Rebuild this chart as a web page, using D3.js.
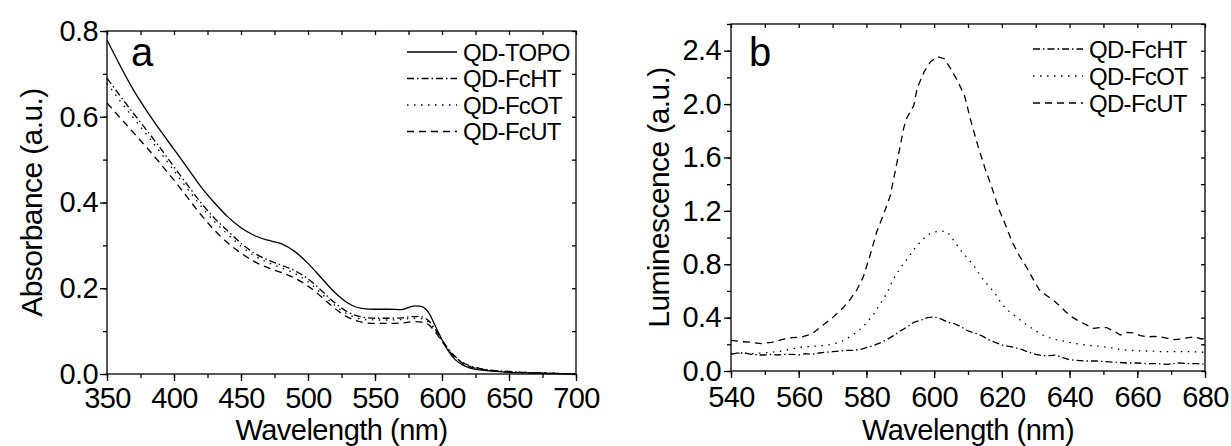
<!DOCTYPE html>
<html>
<head>
<meta charset="utf-8">
<script src="https://cdn.jsdelivr.net/npm/d3@7"></script>
<style>
body { margin: 0; background: #fff; }
svg { font-family: "Liberation Sans", Arial, sans-serif; }
</style>
</head>
<body>
<div id="chart"></div>
<script>
// panel a: absorbance
const absNm = [350,360,370,380,390,400,410,420,430,440,450,460,470,480,490,500,510,520,530,540,550,560,570,575,580,585,590,595,600,605,610,615,620,630,640,650,660,670,680,690,700];
const absTOPO = [0.779,0.718,0.661,0.612,0.567,0.524,0.481,0.437,0.400,0.367,0.341,0.323,0.312,0.304,0.286,0.258,0.224,0.190,0.165,0.153,0.151,0.151,0.150,0.155,0.159,0.157,0.143,0.112,0.080,0.052,0.033,0.022,0.015,0.009,0.006,0.004,0.003,0.002,0.001,0.0005,0.0];
const absFcHT = [0.690,0.648,0.607,0.567,0.526,0.483,0.441,0.400,0.364,0.334,0.305,0.282,0.266,0.254,0.241,0.222,0.195,0.166,0.144,0.133,0.130,0.130,0.131,0.133,0.134,0.133,0.124,0.104,0.080,0.057,0.040,0.028,0.020,0.012,0.008,0.006,0.004,0.003,0.002,0.001,0.001];
const absFcOT = [0.678,0.636,0.596,0.557,0.516,0.474,0.432,0.392,0.356,0.326,0.298,0.276,0.260,0.248,0.235,0.215,0.188,0.160,0.139,0.128,0.126,0.126,0.127,0.129,0.130,0.129,0.121,0.101,0.078,0.056,0.039,0.027,0.019,0.011,0.007,0.005,0.004,0.003,0.002,0.001,0.001];
const absFcUT = [0.632,0.597,0.562,0.527,0.490,0.452,0.412,0.372,0.336,0.306,0.282,0.262,0.248,0.237,0.224,0.205,0.180,0.153,0.132,0.121,0.118,0.118,0.119,0.121,0.122,0.121,0.115,0.098,0.076,0.055,0.038,0.026,0.018,0.011,0.007,0.005,0.003,0.002,0.002,0.001,0.001];

// panel b: luminescence
const lumHTnm = [540,542,544,546,548,550,552,554,556,558,560,562,564,566,568,570,572,574,576,578,580,582,584,586,588,590,592,594,596,598,600,602,604,606,608,610,612,614,616,618,620,622,624,626,628,630,632,634,636,638,640,642,645,648,651,654,657,660,663,666,669,672,675,678,680];
const lumHT = [0.125,0.135,0.135,0.125,0.12,0.12,0.125,0.12,0.125,0.125,0.12,0.13,0.125,0.135,0.14,0.145,0.15,0.155,0.155,0.16,0.175,0.19,0.21,0.235,0.265,0.30,0.33,0.365,0.38,0.40,0.405,0.39,0.365,0.355,0.33,0.30,0.285,0.265,0.235,0.215,0.195,0.185,0.175,0.16,0.14,0.125,0.115,0.115,0.12,0.10,0.085,0.08,0.075,0.075,0.07,0.065,0.06,0.06,0.055,0.055,0.05,0.06,0.055,0.055,0.05];
const lumOTnm = [540,543,546,549,552,555,558,561,564,567,570,573,576,578,580,582,584,586,588,590,592,594,596,598,600,602,604,606,608,610,612,614,616,618,620,622,624,626,628,630,632,634,636,638,640,643,646,649,652,655,658,661,664,667,670,673,676,680];
const lumOT = [0.13,0.135,0.13,0.135,0.14,0.15,0.165,0.18,0.185,0.19,0.20,0.225,0.27,0.31,0.36,0.42,0.50,0.58,0.69,0.77,0.84,0.91,0.97,1.02,1.04,1.05,1.04,0.97,0.90,0.84,0.78,0.70,0.64,0.58,0.50,0.45,0.41,0.37,0.335,0.30,0.27,0.25,0.235,0.225,0.215,0.20,0.19,0.185,0.175,0.16,0.155,0.15,0.15,0.145,0.145,0.145,0.145,0.14];
const lumUTnm = [540,543,546,549,552,555,558,561,564,567,570,573,575,577,579,581,583,585,587,589,591,592,594,595,597,599,601,603,605,607,609,611,613,615,617,619,621,623,625,627,629,631,633,635,637,639,641,643,645,647,649,651,653,655,657,659,661,663,665,667,669,671,673,675,677,679,680];
const lumUT = [0.23,0.22,0.215,0.205,0.215,0.235,0.25,0.255,0.28,0.34,0.40,0.47,0.53,0.60,0.70,0.86,1.04,1.17,1.31,1.56,1.82,1.90,1.99,2.12,2.24,2.32,2.355,2.34,2.26,2.17,2.06,1.86,1.68,1.52,1.38,1.22,1.10,0.97,0.87,0.79,0.70,0.61,0.57,0.535,0.49,0.44,0.40,0.37,0.345,0.32,0.325,0.325,0.30,0.27,0.29,0.285,0.265,0.255,0.26,0.255,0.245,0.235,0.24,0.25,0.255,0.24,0.245];

const xTicksA = [350,400,450,500,550,600,650,700];
const yTicksA = [0.0,0.2,0.4,0.6,0.8];
const xTicksB = [540,560,580,600,620,640,660,680];
const yTicksB = [0.0,0.4,0.8,1.2,1.6,2.0,2.4];

const dashes = {
  solid: null,
  dashdot: "7,3,1.5,3",
  dotted: "1.5,5.5",
  dashed: "7,5"
};

const svg = d3.select("#chart")
  .append("svg")
  .attr("width", 1231)
  .attr("height", 446);

function drawPanel(p) {
  const x = d3.scaleLinear().domain(p.xDomain).range([p.left, p.right]);
  const y = d3.scaleLinear().domain(p.yDomain).range([p.bottom, p.top]);
  const g = svg.append("g");

  // outward minor ticks
  g.append("g").attr("transform", `translate(0,${p.bottom})`)
    .call(d3.axisBottom(x).tickValues(p.xMinor).tickSize(4).tickFormat(""));
  g.append("g").attr("transform", `translate(${p.left},0)`)
    .call(d3.axisLeft(y).tickValues(p.yMinor).tickSize(4).tickFormat(""));

  // major ticks with labels
  g.append("g").attr("class", "lab").attr("transform", `translate(0,${p.bottom})`)
    .call(d3.axisBottom(x).tickValues(p.xTicks).tickSize(7).tickPadding(p.xPad).tickFormat(d3.format("d")));
  g.append("g").attr("class", "lab").attr("transform", `translate(${p.left},0)`)
    .call(d3.axisLeft(y).tickValues(p.yTicks).tickSize(7).tickPadding(p.yPad).tickFormat(d3.format(".1f")));

  // inward mirror ticks
  g.append("g").attr("transform", `translate(0,${p.top})`)
    .call(d3.axisTop(x).tickValues(p.xMinor).tickSize(-4).tickFormat(""));
  g.append("g").attr("transform", `translate(${p.right},0)`)
    .call(d3.axisRight(y).tickValues(p.yMinor).tickSize(-4).tickFormat(""));

  g.selectAll(".domain").remove();
  g.selectAll(".tick line").attr("stroke", "#000").attr("stroke-width", 1.3);
  g.selectAll(".lab text")
    .attr("fill", "#000")
    .style("font-size", "29px")
    .style("letter-spacing", "-0.6px");

  g.append("rect")
    .attr("x", p.left).attr("y", p.top)
    .attr("width", p.right - p.left).attr("height", p.bottom - p.top)
    .attr("fill", "none").attr("stroke", "#000").attr("stroke-width", 1.3);

  const line = d3.line()
    .x(d => x(d[0]))
    .y(d => y(d[1]))
    .curve(p.curve);

  p.series.forEach(s => {
    g.append("path")
      .datum(d3.zip(s.nm, s.values))
      .attr("fill", "none")
      .attr("stroke", "#000")
      .attr("stroke-width", 1.3)
      .attr("stroke-dasharray", dashes[s.style])
      .attr("d", line);
  });

  // legend
  p.series.forEach((s, i) => {
    const ly = p.legendY + i * p.legendStep;
    g.append("line")
      .attr("x1", p.legendX).attr("x2", p.legendX + 50)
      .attr("y1", ly).attr("y2", ly)
      .attr("stroke", "#000").attr("stroke-width", 1.3)
      .attr("stroke-dasharray", dashes[s.style]);
    g.append("text")
      .attr("x", p.legendX + 56).attr("y", ly + 8.5)
      .style("font-size", "24px")
      .style("letter-spacing", "-0.7px")
      .text(s.name);
  });

  g.append("text")
    .attr("x", p.left + p.tagDx).attr("y", p.top + p.tagDy)
    .style("font-size", "40px")
    .text(p.tag);

  g.append("text")
    .attr("x", (p.left + p.right) / 2).attr("y", 439.5)
    .attr("text-anchor", "middle")
    .style("font-size", "29px")
    .style("letter-spacing", "-0.5px")
    .text("Wavelength (nm)");

  g.append("text")
    .attr("transform", `translate(${p.yTitleX},${(p.top + p.bottom) / 2}) rotate(-90)`)
    .attr("text-anchor", "middle")
    .style("font-size", "30px")
    .style("letter-spacing", "-0.6px")
    .text(p.yTitle);
}

drawPanel({
  left: 107, right: 576, top: 31, bottom: 374,
  xDomain: [350, 700], yDomain: [0, 0.8],
  xTicks: xTicksA, yTicks: yTicksA,
  xMinor: d3.range(350, 701, 25), yMinor: d3.range(0, 0.81, 0.1),
  xPad: 6, yPad: 2,
  curve: d3.curveMonotoneX,
  series: [
    {name: "QD-TOPO", nm: absNm, values: absTOPO, style: "solid"},
    {name: "QD-FcHT", nm: absNm, values: absFcHT, style: "dashdot"},
    {name: "QD-FcOT", nm: absNm, values: absFcOT, style: "dotted"},
    {name: "QD-FcUT", nm: absNm, values: absFcUT, style: "dashed"}
  ],
  legendX: 407, legendY: 52, legendStep: 26.5,
  tag: "a", tagDx: 24, tagDy: 35,
  yTitle: "Absorbance (a.u.)", yTitleX: 42
});

drawPanel({
  left: 731, right: 1205, top: 24, bottom: 371,
  xDomain: [540, 680], yDomain: [0, 2.6],
  xTicks: xTicksB, yTicks: yTicksB,
  xMinor: d3.range(540, 681, 10), yMinor: d3.range(0, 2.61, 0.2),
  xPad: 8, yPad: 3,
  curve: d3.curveLinear,
  series: [
    {name: "QD-FcHT", nm: lumHTnm, values: lumHT, style: "dashdot"},
    {name: "QD-FcOT", nm: lumOTnm, values: lumOT, style: "dotted"},
    {name: "QD-FcUT", nm: lumUTnm, values: lumUT, style: "dashed"}
  ],
  legendX: 1033, legendY: 49, legendStep: 27,
  tag: "b", tagDx: 18, tagDy: 42,
  yTitle: "Luminescence (a.u.)", yTitleX: 669
});
</script>
</body>
</html>
